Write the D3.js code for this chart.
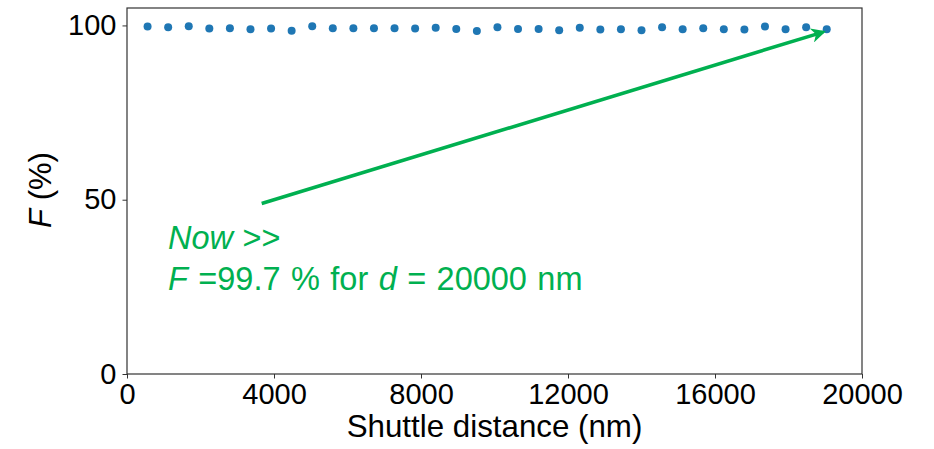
<!DOCTYPE html>
<html>
<head>
<meta charset="utf-8">
<script src="https://cdn.jsdelivr.net/npm/d3@7"></script>
<style>
  body { margin: 0; background: #fff; }
  text { font-family: "Liberation Sans", Arial, sans-serif; }
</style>
</head>
<body>
<script>
// shuttle distance (nm) and fidelity (%)
const distances = d3.range(1, 35).map(i => i * 560);
const fidelity = [
  99.7, 99.5, 99.8, 99.1, 99.2, 98.9, 99.1, 98.5, 99.8, 99.2,
  99.2, 99.2, 99.2, 99.1, 99.3, 99.0, 98.4, 99.5, 99.0, 99.0,
  98.6, 99.3, 98.8, 98.9, 98.6, 99.5, 98.9, 99.2, 98.9, 98.8,
  99.7, 98.9, 99.5, 98.9
];
const xTicks = [0, 4000, 8000, 12000, 16000, 20000];
const yTicks = [0, 50, 100];
const arrowFrom = [3665, 48.9];
const arrowTo = [18940, 98.1];

const width = 934, height = 449;
const margin = {top: 8, right: 72, bottom: 75, left: 127};

const svg = d3.select("body").append("svg")
  .attr("width", width)
  .attr("height", height);

const x = d3.scaleLinear().domain([0, 20000]).range([margin.left, width - margin.right]);
const y = d3.scaleLinear().domain([0, 105]).range([height - margin.bottom, margin.top]);

const green = "#00b050";

svg.append("defs").append("marker")
  .attr("id", "head")
  .attr("viewBox", "0 0 10 10")
  .attr("refX", 8).attr("refY", 5)
  .attr("markerWidth", 4.2).attr("markerHeight", 4.2)
  .attr("markerUnits", "strokeWidth")
  .attr("orient", "auto")
  .append("path")
  .attr("d", "M0,0 L10,5 L0,10 L3,5 Z")
  .attr("fill", green);

// points
svg.append("g")
  .selectAll("circle")
  .data(distances)
  .enter()
  .append("circle")
  .attr("cx", d => x(d))
  .attr("cy", (d, i) => y(fidelity[i]))
  .attr("r", 4)
  .attr("fill", "#1f77b4");

// arrow
svg.append("line")
  .attr("x1", x(arrowFrom[0])).attr("y1", y(arrowFrom[1]))
  .attr("x2", x(arrowTo[0])).attr("y2", y(arrowTo[1]))
  .attr("stroke", green)
  .attr("stroke-width", 3.5)
  .attr("marker-end", "url(#head)");

// axes
const xAxis = svg.append("g")
  .attr("transform", "translate(0," + (height - margin.bottom) + ")")
  .call(d3.axisBottom(x).tickValues(xTicks).tickSize(4.5).tickPadding(5).tickFormat(d3.format("d")));
const yAxis = svg.append("g")
  .attr("transform", "translate(" + margin.left + ",0)")
  .call(d3.axisLeft(y).tickValues(yTicks).tickSize(4.5).tickPadding(6));

[xAxis, yAxis].forEach(a => {
  a.selectAll("text").attr("font-size", 29).attr("fill", "#000")
    .style("font-family", "'Liberation Sans', Arial, sans-serif");
  a.selectAll("line").attr("stroke", "#333").attr("stroke-width", 1);
  a.select(".domain").remove();
});

// frame
svg.append("rect")
  .attr("x", margin.left).attr("y", margin.top)
  .attr("width", width - margin.left - margin.right)
  .attr("height", height - margin.top - margin.bottom)
  .attr("fill", "none")
  .attr("stroke", "#333")
  .attr("stroke-width", 1.2);

// labels
svg.append("text")
  .attr("x", (margin.left + width - margin.right) / 2)
  .attr("y", 437)
  .attr("text-anchor", "middle")
  .attr("font-size", 31.3)
  .text("Shuttle distance (nm)");

const yl = svg.append("text")
  .attr("transform", "translate(51," + 190 + ") rotate(-90)")
  .attr("text-anchor", "middle")
  .attr("font-size", 31);
yl.append("tspan").attr("font-style", "italic").text("F");
yl.append("tspan").text(" (%)");

svg.append("text")
  .attr("x", 168).attr("y", 249)
  .attr("fill", green)
  .attr("font-size", 32.5)
  .attr("font-style", "italic")
  .text("Now >>");

const ann = svg.append("text")
  .attr("x", 168).attr("y", 290)
  .attr("fill", green)
  .attr("font-size", 32.5)
  .attr("word-spacing", 1.4);
ann.append("tspan").attr("font-style", "italic").text("F");
ann.append("tspan").text(" =99.7 % for ");
ann.append("tspan").attr("font-style", "italic").text("d");
ann.append("tspan").text(" = 20000 nm");
</script>
</body>
</html>
